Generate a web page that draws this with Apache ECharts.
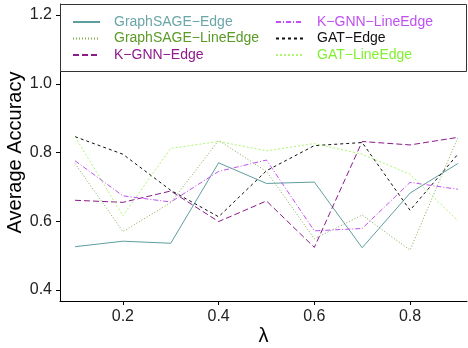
<!DOCTYPE html>
<html>
<head>
<meta charset="utf-8">
<script src="https://cdn.jsdelivr.net/npm/echarts@6/dist/echarts.min.js"></script>
<style>
  html, body { margin: 0; padding: 0; background: #fff; }
  #chart { width: 468px; height: 348px; }
</style>
</head>
<body>
<div id="chart"></div>
<script>
// lambda values on the x axis
const lambdas = [0.1, 0.2, 0.3, 0.4, 0.5, 0.6, 0.7, 0.8, 0.9];

// average accuracy per method
const graphsageEdge     = [0.526, 0.542, 0.536, 0.770, 0.710, 0.714, 0.523, 0.682, 0.768];
const graphsageLineEdge = [0.768, 0.570, 0.654, 0.835, 0.745, 0.549, 0.618, 0.516, 0.844];
const kgnnEdge          = [0.661, 0.655, 0.688, 0.599, 0.659, 0.524, 0.832, 0.822, 0.844];
const kgnnLineEdge      = [0.776, 0.674, 0.656, 0.745, 0.778, 0.572, 0.579, 0.713, 0.693];
const gatEdge           = [0.846, 0.795, 0.690, 0.613, 0.747, 0.820, 0.829, 0.632, 0.795];
const gatLineEdge       = [0.846, 0.616, 0.812, 0.832, 0.805, 0.826, 0.795, 0.737, 0.601];

const xTicks = [0.2, 0.4, 0.6, 0.8];
const yTicks = [0.4, 0.6, 0.8, 1.0, 1.2];

const names = [
    'GraphSAGE\u2212Edge', 'GraphSAGE\u2212LineEdge', 'K\u2212GNN\u2212Edge',
    'K\u2212GNN\u2212LineEdge', 'GAT\u2212Edge', 'GAT\u2212LineEdge'
];

const chart = echarts.init(document.getElementById('chart'), null, { renderer: 'canvas' });

const font = '"Liberation Sans", Arial, Helvetica, sans-serif';

function line(name, values, color, type, opacity) {
    return {
        name: name,
        type: 'line',
        data: lambdas.map((x, i) => [x, values[i]]),
        symbol: 'none',
        animation: false,
        lineStyle: { color: color, width: 1, type: type, opacity: opacity },
        itemStyle: { color: color }
    };
}

function legend(left, items) {
    return {
        orient: 'vertical',
        left: left,
        top: 15,
        z: 20,
        padding: 0,
        itemWidth: 27,
        itemHeight: 10,
        itemGap: 2.5,
        selectedMode: false,
        itemStyle: { opacity: 0 }, // line sample only, no symbol
        textStyle: { fontFamily: font, fontSize: 14, lineHeight: 14, padding: [0, 0, 0, 9] },
        data: items
    };
}

const options = {
    backgroundColor: '#fff',
    animation: false,
    grid: { left: 60, right: 1, top: 4, bottom: 47, outerBoundsMode: 'none' },
    graphic: [
        { // legend box
            type: 'rect',
            z: 10,
            shape: { x: 60.5, y: 4.5, width: 406, height: 67 },
            style: { fill: '#fff', stroke: '#333', lineWidth: 1 }
        }
    ],
    legend: [
        legend(72, [
            { name: names[0], textStyle: { color: '#6aa6a8' } },
            { name: names[1], textStyle: { color: '#5b9a26' } },
            { name: names[2], textStyle: { color: '#8e1a8e' } }
        ]),
        legend(275, [
            { name: names[3], textStyle: { color: '#c04ff2' } },
            { name: names[4], textStyle: { color: '#111' } },
            { name: names[5], textStyle: { color: '#80f030' } }
        ])
    ],
    xAxis: {
        type: 'value',
        min: 0.0686,
        max: 0.919,
        name: '\u03bb',
        nameLocation: 'middle',
        nameGap: 25,
        nameMoveOverlap: false,
        nameTextStyle: { fontFamily: font, fontSize: 20, color: '#000' },
        axisLine: { lineStyle: { color: '#000', width: 1 } },
        axisTick: { show: true, length: 4, inside: false, customValues: xTicks, lineStyle: { color: '#000' } },
        axisLabel: { customValues: xTicks, margin: 8, fontFamily: font, fontSize: 16, color: '#222',
            formatter: v => v.toFixed(1) },
        splitLine: { show: false }
    },
    yAxis: {
        type: 'value',
        min: 0.368,
        max: 1.232,
        name: 'Average Accuracy',
        nameLocation: 'middle',
        nameGap: 35,
        nameMoveOverlap: false,
        nameTextStyle: { fontFamily: font, fontSize: 20, color: '#000' },
        axisLine: { show: true, lineStyle: { color: '#000', width: 1 } },
        axisTick: { show: true, length: 4, inside: false, customValues: yTicks, lineStyle: { color: '#000' } },
        axisLabel: { customValues: yTicks, margin: 8, fontFamily: font, fontSize: 16, color: '#222',
            formatter: v => v.toFixed(1) },
        splitLine: { show: false }
    },
    series: [
        line(names[0], graphsageEdge, '#5f9ea0', 'solid', 1),
        line(names[1], graphsageLineEdge, '#6b9e2e', [1, 2], 0.85),
        line(names[2], kgnnEdge, '#8b1a8b', [6, 3], 1),
        line(names[3], kgnnLineEdge, '#bf4ff5', [5, 2, 1, 2], 1),
        line(names[4], gatEdge, '#111', [3, 3], 1),
        line(names[5], gatLineEdge, '#9cf050', [2, 2], 0.8)
    ]
};

chart.setOption(options);
</script>
</body>
</html>
